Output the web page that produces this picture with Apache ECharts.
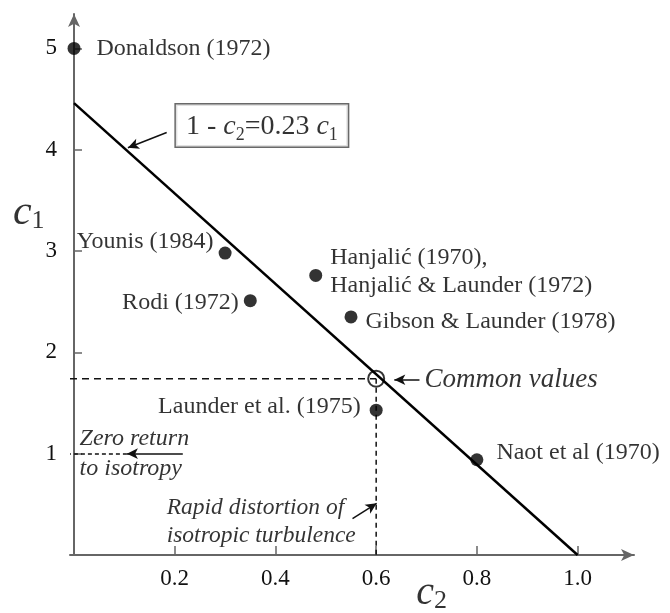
<!DOCTYPE html>
<html>
<head>
<meta charset="utf-8">
<script src="https://cdn.jsdelivr.net/npm/echarts@6/dist/echarts.min.js"></script>
<style>
  html, body { margin: 0; padding: 0; background: #fff; }
  #chart { width: 670px; height: 613px; }
</style>
</head>
<body>
<div id="chart"></div>
<script>
  // studies: (c2, c1) pairs
  const studyNames = [
    'Donaldson (1972)',
    'Younis (1984)',
    'Rodi (1972)',
    'Hanjalić (1970),\nHanjalić & Launder (1972)',
    'Gibson & Launder (1978)',
    'Launder et al. (1975)',
    'Naot et al (1970)'
  ]
  const studyC2 = [0.0, 0.30, 0.35, 0.48, 0.55, 0.60, 0.80]
  const studyC1 = [5.0, 2.98, 2.51, 2.76, 2.35, 1.43, 0.94]
  const commonValue = [0.6, 1.74]
  // 1 - c2 = 0.23 c1 line as drawn
  const fitC2 = [0, 1.0]
  const fitC1 = [4.46, 0]
  const xTicks = [0.2, 0.4, 0.6, 0.8, 1.0]
  const yTicks = [1, 2, 3, 4, 5]

  const xMin = -0.008
  const serif = 'Liberation Serif'
  const axisGray = '#666'
  const ink = '#000'

  // label placement for each study
  const studyLabel = [
    { position: 'right', distance: 16, offset: [0, 0] },
    { position: 'left', distance: 5, offset: [0, -11] },
    { position: 'left', distance: 5, offset: [0, 2] },
    { position: 'right', distance: 8, offset: [0, -4], lineHeight: 28 },
    { position: 'right', distance: 8, offset: [0, 5] },
    { position: 'left', distance: 9, offset: [0, -3] },
    { position: 'right', distance: 13, offset: [0, -7] }
  ]

  const chart = echarts.init(document.getElementById('chart'))

  const studyData = studyNames.map((name, i) => ({
    name: name,
    value: [studyC2[i], studyC1[i]],
    label: Object.assign({ show: true, formatter: name }, studyLabel[i])
  }))

  const sub = { fontFamily: serif, fontSize: 18, lineHeight: 18, verticalAlign: 'bottom', color: ink }
  const ital = { fontFamily: serif, fontStyle: 'italic', fontSize: 28, lineHeight: 36, color: ink }
  const up = { fontFamily: serif, fontSize: 28, lineHeight: 36, color: ink }

  function note (value, text, extra) {
    return {
      value: value,
      label: Object.assign({
        show: true,
        position: 'inside',
        formatter: text,
        fontFamily: serif,
        color: ink
      }, extra)
    }
  }

  const option = {
    animation: false,
    backgroundColor: '#fff',
    grid: { left: 70, right: 36, top: 14, bottom: 58 },
    xAxis: {
      type: 'value',
      min: xMin,
      max: 1.112,
      splitLine: { show: false },
      axisLine: { lineStyle: { color: axisGray, width: 2 }, symbol: ['none', 'arrow'], symbolSize: [9, 13] },
      axisTick: { inside: true, length: 9, customValues: xTicks, lineStyle: { color: axisGray, width: 1.5 } },
      axisLabel: {
        customValues: xTicks,
        margin: 12,
        fontFamily: serif,
        fontSize: 23,
        color: '#111',
        formatter: v => v.toFixed(1)
      }
    },
    yAxis: {
      type: 'value',
      min: 0,
      max: 5.34,
      splitLine: { show: false },
      axisLine: { lineStyle: { color: axisGray, width: 2 }, symbol: ['none', 'arrow'], symbolSize: [9, 13] },
      axisTick: { inside: true, length: 8, customValues: yTicks, lineStyle: { color: axisGray, width: 1.5 } },
      axisLabel: {
        customValues: yTicks,
        margin: 13,
        fontFamily: serif,
        fontSize: 23,
        color: '#111'
      }
    },
    series: [
      {
        type: 'line',
        data: fitC2.map((x, i) => [x, fitC1[i]]),
        symbol: 'none',
        lineStyle: { color: '#000', width: 2.5 },
        z: 3
      },
      {
        type: 'line',
        data: [[xMin, commonValue[1]], commonValue],
        symbol: 'none',
        lineStyle: { color: '#111', width: 1.5, type: [7, 5] }
      },
      {
        type: 'line',
        data: [commonValue, [commonValue[0], 0]],
        symbol: 'none',
        lineStyle: { color: '#111', width: 1.5, type: [5, 4] }
      },
      {
        type: 'scatter',
        data: studyData,
        symbolSize: 13,
        itemStyle: { color: '#000' },
        label: { fontFamily: serif, fontSize: 24, color: ink },
        z: 5
      },
      {
        type: 'scatter',
        data: [commonValue],
        symbolSize: 16,
        itemStyle: { color: 'rgba(0,0,0,0)', borderColor: '#000', borderWidth: 2 },
        z: 6
      },
      {
        type: 'scatter',
        clip: false,
        symbolSize: 1,
        itemStyle: { color: 'rgba(0,0,0,0)' },
        silent: true,
        data: [
          note([0.373, 4.24], '{u|1 - }{i|c}{s|2}{u|=0.23 }{i|c}{s|1}', {
            align: 'center',
            verticalAlign: 'middle',
            borderColor: '#444',
            borderWidth: 1.5,
            padding: [4, 10, 2, 10],
            backgroundColor: '#fff',
            rich: { u: up, i: ital, s: sub }
          }),
          note([0.696, 1.73], 'Common values', {
            align: 'left', verticalAlign: 'middle', fontStyle: 'italic', fontSize: 27
          }),
          note([0.011, 1.0], 'Zero return\nto isotropy', {
            align: 'left', verticalAlign: 'middle', fontStyle: 'italic', fontSize: 24, lineHeight: 30
          }),
          note([0.184, 0.33], 'Rapid distortion of\nisotropic turbulence', {
            align: 'left', verticalAlign: 'middle', fontStyle: 'italic', fontSize: 23.5, lineHeight: 28
          }),
          note([-0.09, 3.38], '{i|c}{s|1}', {
            align: 'center', verticalAlign: 'middle',
            rich: {
              i: { fontFamily: serif, fontStyle: 'italic', fontSize: 42, lineHeight: 44, color: ink },
              s: { fontFamily: serif, fontSize: 26, lineHeight: 26, verticalAlign: 'bottom', color: ink }
            }
          }),
          note([0.71, -0.38], '{i|c}{s|2}', {
            align: 'center', verticalAlign: 'middle',
            rich: {
              i: { fontFamily: serif, fontStyle: 'italic', fontSize: 40, lineHeight: 42, color: ink },
              s: { fontFamily: serif, fontSize: 26, lineHeight: 26, verticalAlign: 'bottom', color: ink }
            }
          })
        ],
        markLine: {
          silent: true,
          symbol: ['none', 'arrow'],
          symbolSize: [8, 11],
          label: { show: false },
          lineStyle: { color: '#111', width: 1.5, type: 'solid' },
          data: [
            [{ coord: [0.184, 4.17] }, { coord: [0.107, 4.02] }],
            [{ coord: [0.686, 1.73] }, { coord: [0.636, 1.73] }],
            [{ coord: [0.216, 1.0] }, { coord: [0.105, 1.0] }],
            [{ coord: [0.105, 1.0], symbol: 'none' }, { coord: [xMin, 1.0], symbol: 'none', lineStyle: { type: [4, 3] } }],
            [{ coord: [0.553, 0.36] }, { coord: [0.601, 0.51] }]
          ]
        }
      }
    ]
  }

  chart.setOption(option)
</script>
</body>
</html>
